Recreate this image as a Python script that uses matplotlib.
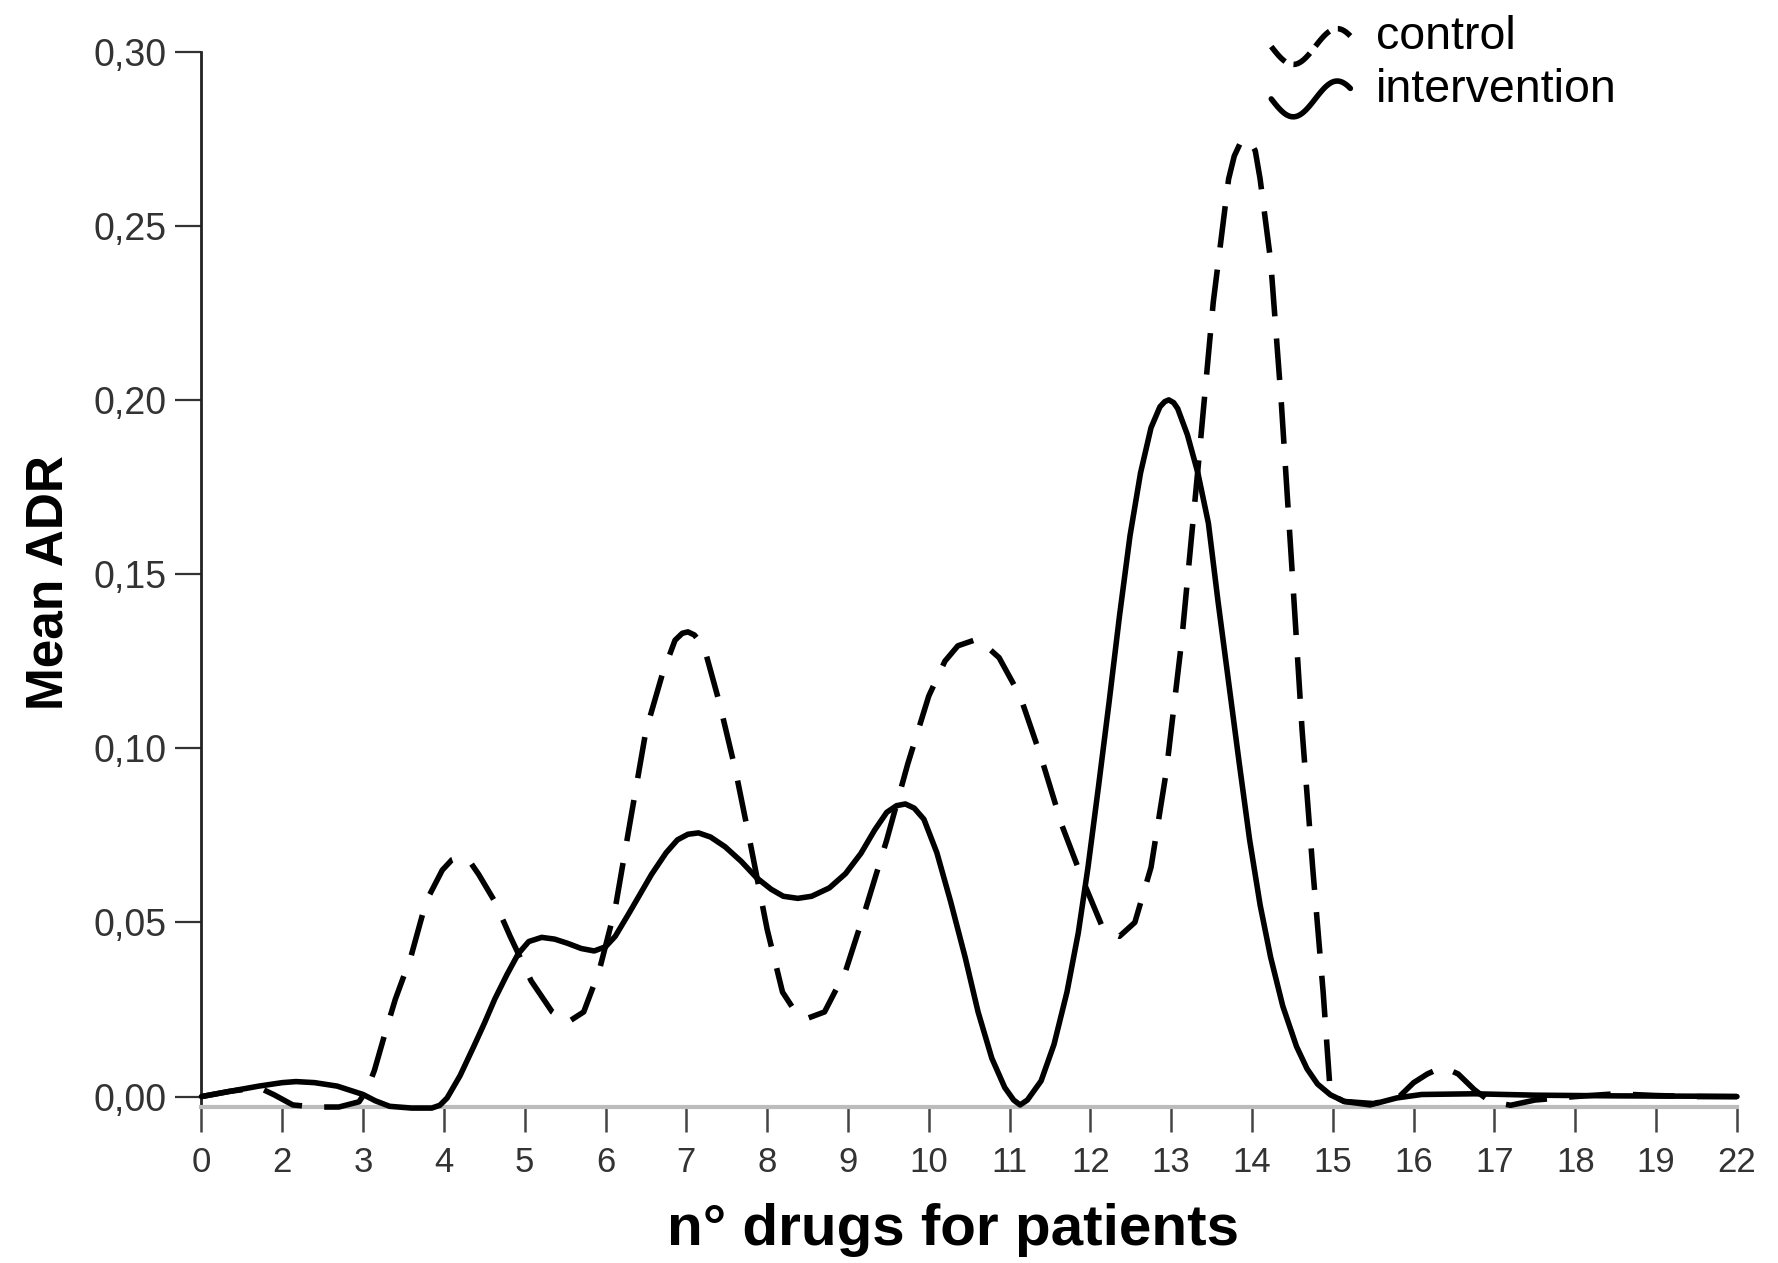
import numpy as np
import matplotlib
matplotlib.use("Agg")
import matplotlib.pyplot as plt
from matplotlib.lines import Line2D
from matplotlib.legend_handler import HandlerBase

plt.rcParams['font.family'] = ['Liberation Sans', 'DejaVu Sans']

# category labels on the x axis (equally spaced positions)
drug_labels = ['0', '2', '3', '4', '5', '6', '7', '8', '9', '10',
               '11', '12', '13', '14', '15', '16', '17', '18', '19', '22']

# traced spline of the intervention group (position on axis, mean ADR)
interv_pos = [0.00, 0.35, 0.71, 1.00, 1.17, 1.40, 1.68, 2.00, 2.15, 2.33,
              2.60, 2.85, 2.95, 3.04, 3.20, 3.37, 3.50, 3.63, 3.78, 3.92,
              4.05, 4.21, 4.37, 4.53, 4.70, 4.86, 5.00, 5.12, 5.30, 5.45,
              5.57, 5.75, 5.89, 6.02, 6.15, 6.30, 6.48, 6.68, 6.87, 7.05,
              7.20, 7.38, 7.55, 7.77, 7.97, 8.16, 8.33, 8.48, 8.60, 8.71,
              8.82, 8.94, 9.10, 9.27, 9.45, 9.61, 9.78, 9.94, 10.05, 10.13,
              10.22, 10.39, 10.55, 10.71, 10.85, 10.97, 11.10, 11.23, 11.36, 11.49,
              11.62, 11.75, 11.86, 11.92, 11.97, 12.03, 12.08, 12.20, 12.33, 12.46,
              12.58, 12.71, 12.84, 12.97, 13.10, 13.23, 13.38, 13.55, 13.68, 13.81,
              13.97, 14.14, 14.46, 14.79, 15.10, 15.75, 16.50, 17.50, 18.50, 19.00]
interv_val = [0.0000, 0.0015, 0.0030, 0.0040, 0.0043, 0.0040, 0.0030, 0.0006, -0.0012, -0.0028,
              -0.0033, -0.0033, -0.0025, -0.0004, 0.0060, 0.0144, 0.0210, 0.0280, 0.0350, 0.0410,
              0.0445, 0.0457, 0.0452, 0.0440, 0.0425, 0.0418, 0.0430, 0.0460, 0.0530, 0.0590,
              0.0638, 0.0700, 0.0737, 0.0753, 0.0757, 0.0745, 0.0717, 0.0675, 0.0628, 0.0595,
              0.0575, 0.0569, 0.0575, 0.0599, 0.0640, 0.0698, 0.0765, 0.0816, 0.0835, 0.0840,
              0.0828, 0.0796, 0.0700, 0.0560, 0.0400, 0.0243, 0.0110, 0.0026, -0.0010, -0.0024,
              -0.0010, 0.0045, 0.0150, 0.0300, 0.0470, 0.0658, 0.0890, 0.1130, 0.1380, 0.1610,
              0.1790, 0.1920, 0.1980, 0.1995, 0.2000, 0.1992, 0.1975, 0.1900, 0.1790, 0.1646,
              0.1420, 0.1190, 0.0960, 0.0737, 0.0550, 0.0400, 0.0260, 0.0144, 0.0080, 0.0036,
              0.0005, -0.0014, -0.0024, -0.0004, 0.0006, 0.0008, 0.0004, 0.0002, 0.0001, 0.0000]

# traced spline of the control group
control_pos = [0.00, 0.35, 0.71, 0.90, 1.13, 1.40, 1.70, 1.95, 2.05, 2.14,
               2.27, 2.40, 2.59, 2.78, 2.98, 3.10, 3.20, 3.32, 3.43, 3.63,
               3.82, 4.08, 4.34, 4.53, 4.73, 4.92, 5.12, 5.31, 5.50, 5.70,
               5.86, 5.95, 6.02, 6.10, 6.22, 6.41, 6.61, 6.80, 7.00, 7.19,
               7.35, 7.48, 7.71, 7.97, 8.22, 8.48, 8.74, 9.00, 9.20, 9.36,
               9.61, 9.87, 10.13, 10.39, 10.65, 10.91, 11.16, 11.36, 11.55, 11.75,
               11.94, 12.13, 12.33, 12.52, 12.71, 12.78, 12.86, 12.91, 12.97, 13.04,
               13.10, 13.23, 13.36, 13.49, 13.62, 13.75, 13.88, 13.97, 14.14, 14.50,
               14.80, 15.00, 15.17, 15.36, 15.55, 15.75, 15.95, 16.20, 16.50, 17.00,
               17.50, 18.00, 18.50, 19.00]
control_val = [0.0000, 0.0015, 0.0026, 0.0005, -0.0024, -0.0030, -0.0030, -0.0015, 0.0020, 0.0075,
               0.0180, 0.0280, 0.0400, 0.0560, 0.0650, 0.0680, 0.0688, 0.0675, 0.0638, 0.0560,
               0.0460, 0.0332, 0.0243, 0.0213, 0.0243, 0.0360, 0.0540, 0.0796, 0.1050, 0.1210,
               0.1310, 0.1330, 0.1334, 0.1325, 0.1290, 0.1130, 0.0935, 0.0717, 0.0480, 0.0300,
               0.0243, 0.0223, 0.0243, 0.0360, 0.0540, 0.0737, 0.0955, 0.1150, 0.1250, 0.1294,
               0.1314, 0.1260, 0.1150, 0.0974, 0.0777, 0.0619, 0.0480, 0.0460, 0.0500, 0.0658,
               0.0935, 0.1310, 0.1800, 0.2280, 0.2634, 0.2700, 0.2740, 0.2750, 0.2745, 0.2715,
               0.2634, 0.2400, 0.2000, 0.1530, 0.1050, 0.0658, 0.0300, 0.0006, -0.0014, -0.0020,
               -0.0005, 0.0040, 0.0065, 0.0085, 0.0065, 0.0020, -0.0015, -0.0025, -0.0010, 0.0000,
               0.0008, 0.0003, 0.0000, 0.0000]

y_ticks = [0.00, 0.05, 0.10, 0.15, 0.20, 0.25, 0.30]

LW = 4.0
DASH = (0, (7.5, 4.0))


class SquiggleHandler(HandlerBase):
    # legend glyph: small wavy stroke like the SPSS spline symbol
    def create_artists(self, legend, orig_handle, xdescent, ydescent,
                       width, height, fontsize, trans):
        t = np.linspace(0, 1, 40)
        xs = -xdescent + t * width
        ys = height * 0.08 - height * 0.55 * np.sin(2 * np.pi * 0.9 * t)
        ln = Line2D(xs, ys, color='black', lw=orig_handle.get_linewidth(),
                    linestyle=orig_handle.get_linestyle(),
                    dash_capstyle='butt', solid_capstyle='round')
        ln.set_transform(trans)
        return [ln]


fig = plt.figure(figsize=(17.78, 12.63), dpi=100)
ax = fig.add_axes([0.1133, 0.1235, 0.8636, 0.8357])

x = np.arange(len(drug_labels))
ax.plot(control_pos, control_val, color='black', lw=LW, linestyle=DASH,
        dash_capstyle='butt', dash_joinstyle='round', label='control',
        clip_on=False, zorder=3)
ax.plot(interv_pos, interv_val, color='black', lw=LW, solid_capstyle='round',
        solid_joinstyle='round', label='intervention', clip_on=False, zorder=3)

ax.set_xlim(0, len(drug_labels) - 1)
ax.set_ylim(-0.003, 0.30)
ax.set_xticks(x)
ax.set_xticklabels(drug_labels)
ax.set_yticks(y_ticks)
ax.set_yticklabels([f'{v:.2f}'.replace('.', ',') for v in y_ticks])

for s in ['top', 'right']:
    ax.spines[s].set_visible(False)
ax.spines['left'].set_color('#222222')
ax.spines['left'].set_linewidth(2.0)
ax.spines['bottom'].set_color('#bcbcbc')
ax.spines['bottom'].set_linewidth(3.0)

ax.tick_params(axis='y', direction='out', length=19, width=1.6, color='#333333',
               labelsize=27, labelcolor='#333333', pad=6)
ax.tick_params(axis='x', direction='out', length=18, width=1.8, color='#444444',
               labelsize=25, labelcolor='#333333', pad=10)

fig.text(0.536, 0.0143, 'n° drugs for patients', fontsize=42, fontweight='bold',
         ha='center', va='baseline')
fig.text(0.0349, 0.539, 'Mean ADR', fontsize=37, fontweight='bold', rotation=90,
         rotation_mode='anchor', ha='center', va='baseline')

handles, labels = ax.get_legend_handles_labels()
fig.legend(handles, labels, handler_map={Line2D: SquiggleHandler()},
           loc='upper left', bbox_to_anchor=(0.715, 0.988), frameon=False,
           fontsize=33.5, handlelength=1.7, handletextpad=0.55,
           labelspacing=0.18, borderpad=0.0, borderaxespad=0.0)

fig.savefig('out.png', dpi=100)
